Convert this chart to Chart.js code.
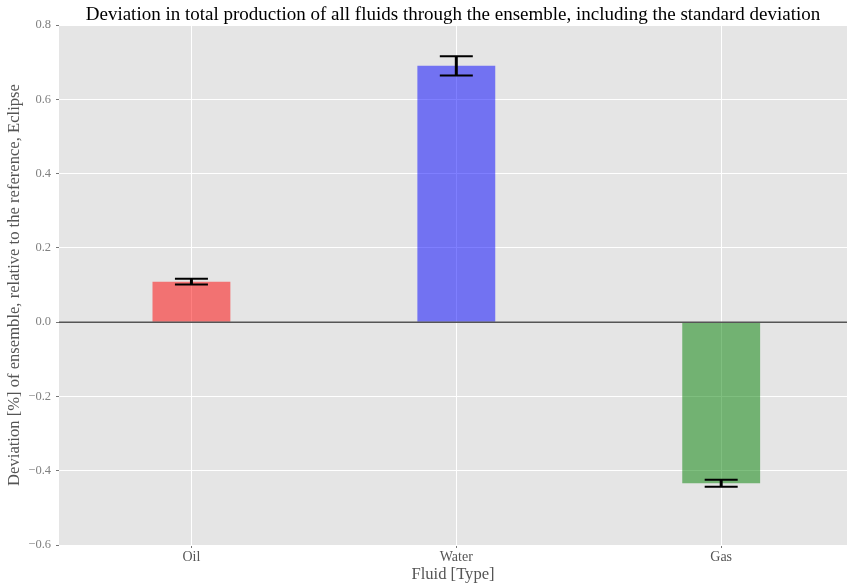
<!DOCTYPE html>
<html>
<head>
<meta charset="utf-8">
<script src="https://cdn.jsdelivr.net/npm/chart.js@4"></script>
<style>
  html, body { margin: 0; padding: 0; background: #ffffff; }
  #wrap { width: 847px; height: 586px; }
</style>
</head>
<body>
<div id="wrap"><canvas id="c" width="847" height="586"></canvas></div>
<script>
// Fluids and the ensemble deviation (%) with its standard deviation
const categories = ['Oil', 'Water', 'Gas'];
const deviation = [0.109, 0.690, -0.434];
const stdDev = [0.0075, 0.026, 0.0095];
const barColors = ['rgba(255,0,0,0.5)', 'rgba(0,0,255,0.5)', 'rgba(0,128,0,0.5)'];
const yTicks = [-0.6, -0.4, -0.2, 0.0, 0.2, 0.4, 0.6, 0.8];

const serif = "'Liberation Serif', 'DejaVu Serif', serif";

// Zero reference line and error bars drawn over the bars
const errorBars = {
  id: 'errorBars',
  afterDatasetsDraw(chart) {
    const { ctx, chartArea, scales } = chart;
    const x = scales.x, y = scales.y;
    ctx.save();
    ctx.strokeStyle = '#555555';
    ctx.lineWidth = 1.5;
    const y0 = y.getPixelForValue(0);
    ctx.beginPath();
    ctx.moveTo(chartArea.left, y0);
    ctx.lineTo(chartArea.right, y0);
    ctx.stroke();

    ctx.strokeStyle = '#000000';
    deviation.forEach((v, i) => {
      const xc = x.getPixelForValue(i);
      const yt = y.getPixelForValue(v + stdDev[i]);
      const yb = y.getPixelForValue(v - stdDev[i]);
      const half = 16.5;
      ctx.lineWidth = 3;
      ctx.beginPath();
      ctx.moveTo(xc, yt);
      ctx.lineTo(xc, yb);
      ctx.stroke();
      ctx.lineWidth = 2;
      ctx.beginPath();
      ctx.moveTo(xc - half, yt);
      ctx.lineTo(xc + half, yt);
      ctx.moveTo(xc - half, yb);
      ctx.lineTo(xc + half, yb);
      ctx.stroke();
    });
    ctx.restore();
  }
};

// Grey plot panel behind the grid
const panel = {
  id: 'panel',
  beforeDraw(chart) {
    const { ctx, chartArea } = chart;
    ctx.save();
    ctx.fillStyle = '#e5e5e5';
    ctx.fillRect(chartArea.left, chartArea.top, chartArea.right - chartArea.left, chartArea.bottom - chartArea.top);
    ctx.restore();
  }
};

new Chart(document.getElementById('c'), {
  type: 'bar',
  data: {
    datasets: [{
      data: deviation.map((v, i) => ({ x: i, y: v })),
      backgroundColor: barColors,
      borderWidth: 0,
      barPercentage: 0.294,
      categoryPercentage: 1.0
    }]
  },
  options: {
    responsive: false,
    animation: false,
    layout: { padding: 0 },
    plugins: {
      legend: { display: false },
      tooltip: { enabled: false },
      title: {
        display: true,
        fullSize: false,
        text: 'Deviation in total production of all fluids through the ensemble, including the standard deviation',
        color: '#000000',
        font: { family: serif, size: 19, weight: 'normal', lineHeight: 1.0 },
        padding: { top: 6, bottom: 0 }
      }
    },
    scales: {
      x: {
        type: 'linear',
        min: -0.5,
        max: 2.475,
        offset: false,
        afterFit(scale) { scale.height = 41; },
        afterBuildTicks(scale) { scale.ticks = categories.map((c, i) => ({ value: i })); },
        ticks: {
          callback: (v) => categories[v],
          color: '#555555',
          font: { family: serif, size: 14 },
          padding: 1,
          maxRotation: 0
        },
        grid: { offset: false, color: '#ffffff', lineWidth: 1, tickLength: 3, tickColor: '#777777', drawTicks: true },
        border: { display: false },
        title: {
          display: true,
          text: 'Fluid [Type]',
          color: '#555555',
          font: { family: serif, size: 16.6 },
          padding: { top: 0, bottom: 1.5 }
        }
      },
      y: {
        min: -0.6,
        max: 0.8,
        afterFit(scale) { scale.width = 59; },
        afterBuildTicks(scale) { scale.ticks = yTicks.map(v => ({ value: v })); },
        ticks: {
          callback: (v) => (Math.abs(v) < 1e-9 ? '0.0' : v.toFixed(1).replace('-', '\u2212')),
          color: '#808080',
          font: { family: serif, size: 12.5 },
          padding: 5
        },
        grid: { color: '#ffffff', lineWidth: 1, tickLength: 3, tickColor: '#777777', drawTicks: true },
        border: { display: false },
        title: {
          display: true,
          text: 'Deviation [%] of ensemble, relative to the reference, Eclipse',
          color: '#555555',
          font: { family: serif, size: 16.6 },
          padding: { top: 5, bottom: 0 }
        }
      }
    }
  },
  plugins: [panel, errorBars]
});
</script>
</body>
</html>
